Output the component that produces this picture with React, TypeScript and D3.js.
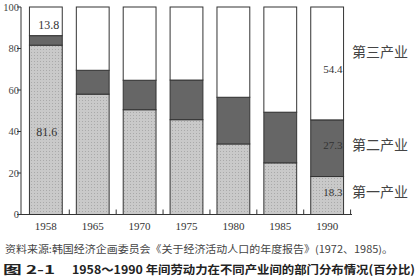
import React from "react";
import * as d3 from "d3";

const years = ["1958", "1965", "1970", "1975", "1980", "1985", "1990"];
const primary = [81.6, 58.0, 50.5, 45.7, 34.0, 24.9, 18.3];
const secondary = [4.6, 11.5, 14.2, 19.1, 22.5, 24.4, 27.3];
const tertiary = [13.8, 30.5, 35.3, 35.2, 43.5, 50.7, 54.4];
const yTicks = [0, 20, 40, 60, 80, 100];
const seriesNames = ["第一产业", "第二产业", "第三产业"];
const source = "资料来源:韩国经济企画委员会《关于经济活动人口的年度报告》(1972、1985)。";
const figNo = "图 2-1";
const title = "1958～1990 年间劳动力在不同产业间的部门分布情况(百分比)";

export default function App() {
  const W = 417, H = 279;
  const x = d3.scaleBand().domain(years).range([21, 352]).paddingInner(0.3).paddingOuter(0.18);
  const y = d3.scaleLinear().domain([0, 100]).range([214.5, 7]);
  const serif = "'Liberation Serif', 'DejaVu Serif', serif";
  const cjk = "'Noto Sans CJK SC', sans-serif";
  const rows = years.map((yr, i) => ({ yr, p: primary[i], s: secondary[i], t: tertiary[i] }));
  const stack = d3.stack<any>().keys(["p", "s", "t"])(rows);
  const fills = ["#c6c6c6", "#666666", "#ffffff"];
  const step = x.step();
  const sepTicks = years.map((yr) => (x(yr) as number) + x.bandwidth() + (step - x.bandwidth()) / 2);
  const last = years.length - 1;
  const bx = (x(years[last]) as number) + x.bandwidth() - 1;
  return (
    <svg width={W} height={H} style={{ position: "absolute", left: 0, top: 0, background: "#fff" }}>
      <defs>
        <pattern id="dots" width="3" height="3" patternUnits="userSpaceOnUse">
          <rect width="3" height="3" fill="#c9c9c9" />
          <rect x="1" y="1" width="1" height="1" fill="#a9a9a9" />
        </pattern>
      </defs>
      {stack.map((layer, li) =>
        layer.map((d, i) => (
          <rect
            key={li + "-" + i}
            x={x(years[i])}
            y={y(d[1])}
            width={x.bandwidth()}
            height={y(d[0]) - y(d[1])}
            fill={li === 0 ? "url(#dots)" : fills[li]}
            stroke="#333"
            strokeWidth={1}
          />
        ))
      )}
      {/* axes */}
      <line x1={21} x2={21} y1={y(100)} y2={y(0)} stroke="#333" />
      <line x1={21} x2={352} y1={y(0)} y2={y(0)} stroke="#333" />
      {yTicks.map((t) => (
        <g key={t}>
          <line x1={17} x2={21} y1={y(t)} y2={y(t)} stroke="#333" />
          <text x={19} y={y(t) + 3.5} textAnchor="end" fontSize={10.5} fontFamily={serif} fill="#444">{t}</text>
        </g>
      ))}
      {sepTicks.map((sx, i) => (
        <line key={i} x1={sx} x2={sx} y1={y(0) - 5} y2={y(0)} stroke="#333" />
      ))}
      {years.map((yr) => (
        <text key={yr} x={(x(yr) as number) + x.bandwidth() / 2} y={230} textAnchor="middle" fontSize={11} fontFamily={serif} fill="#333">{yr}</text>
      ))}
      {/* value labels */}
      <text x={(x(years[0]) as number) + x.bandwidth() / 2 + 3} y={29} textAnchor="middle" fontSize={12} fontFamily={serif} fill="#333">{tertiary[0]}</text>
      <text x={(x(years[0]) as number) + x.bandwidth() / 2 + 1} y={136} textAnchor="middle" fontSize={12} fontFamily={serif} fill="#333">{primary[0]}</text>
      <text x={bx} y={73} textAnchor="end" fontSize={11} fontFamily={serif} fill="#333">{tertiary[last]}</text>
      <text x={bx} y={149} textAnchor="end" fontSize={11} fontFamily={serif} fill="#333">{secondary[last]}</text>
      <text x={bx} y={196} textAnchor="end" fontSize={11} fontFamily={serif} fill="#333">{primary[last]}</text>
      {/* legend labels */}
      <text x={352} y={57} fontSize={14} fontFamily={cjk} fill="#444">{seriesNames[2]}</text>
      <text x={352} y={150} fontSize={14} fontFamily={cjk} fill="#444">{seriesNames[1]}</text>
      <text x={352} y={197} fontSize={14} fontFamily={cjk} fill="#444">{seriesNames[0]}</text>
      {/* footer */}
      <text x={5} y={253} fontSize={10} fontFamily={cjk} fill="#444" textLength={388} lengthAdjust="spacingAndGlyphs">{source}</text>
      <text x={3} y={274} fontSize={11.5} fontWeight="bold" fontFamily={cjk} fill="#222" textLength={52} lengthAdjust="spacingAndGlyphs">{figNo}</text>
      <text x={72} y={274} fontSize={11.5} fontWeight="bold" fontFamily={cjk} fill="#222" textLength={343} lengthAdjust="spacingAndGlyphs">{title}</text>
    </svg>
  );
}
